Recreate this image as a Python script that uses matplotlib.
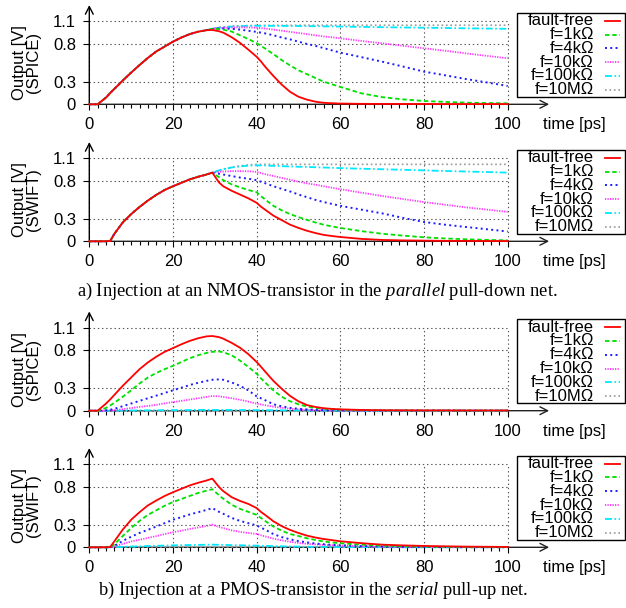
import matplotlib
matplotlib.use('Agg')
import matplotlib.pyplot as plt
from matplotlib.lines import Line2D
from matplotlib.patches import Rectangle
from matplotlib.ticker import MultipleLocator

plt.rcParams['font.family'] = ['Liberation Sans', 'DejaVu Sans']
plt.rcParams['mathtext.fontset'] = 'custom'
plt.rcParams['mathtext.rm'] = 'Liberation Serif'
plt.rcParams['mathtext.it'] = 'Liberation Serif:italic'
plt.rcParams['lines.scale_dashes'] = False

# ---------------- data ----------------
T = [0, 2, 4, 5, 6, 8, 10, 12, 14, 16, 18, 20, 22, 24, 26, 28,
     29.4, 31, 32, 34, 36, 38, 40, 41, 42, 44, 46, 48, 50, 52, 54, 56, 58, 60,
     65, 70, 75, 80, 85, 90, 95, 100]

LABELS = ['fault-free', 'f=1kΩ', 'f=4kΩ', 'f=10kΩ', 'f=100kΩ', 'f=10MΩ']
YTICKS = [0, 0.3, 0.8, 1.1]
YTICKLABELS = ['0', '0.3', '0.8', '1.1']
XTICKS = [0, 20, 40, 60, 80, 100]
YLABELS = ['Output [V]\n(SPICE)', 'Output [V]\n(SWIFT)',
           'Output [V]\n(SPICE)', 'Output [V]\n(SWIFT)']

# panel a) SPICE
a_spice_rise = [0, 0, 0.09, 0.15, 0.205, 0.315, 0.42, 0.52, 0.615, 0.70, 0.765, 0.83, 0.885, 0.93, 0.962, 0.982]
a_spice_ff = a_spice_rise + [0.985, 0.968, 0.95, 0.89, 0.815, 0.725, 0.63, 0.57, 0.50, 0.375, 0.26, 0.165, 0.10, 0.062, 0.035, 0.02, 0.014, 0.01,
                             0.006, 0.005, 0.004, 0.004, 0.003, 0.003, 0.003, 0.003]
a_spice_1k = a_spice_rise + [1.0, 0.997, 0.99, 0.965, 0.915, 0.865, 0.81, 0.775, 0.74, 0.665, 0.585, 0.515, 0.45, 0.40, 0.35, 0.30, 0.265, 0.23,
                             0.146, 0.095, 0.065, 0.044, 0.032, 0.022, 0.017, 0.013]
a_spice_4k = a_spice_rise + [1.0, 1.005, 1.005, 1.0, 0.99, 0.975, 0.96, 0.95, 0.94, 0.915, 0.885, 0.86, 0.83, 0.80, 0.775, 0.745, 0.715, 0.685,
                             0.625, 0.565, 0.50, 0.433, 0.385, 0.335, 0.29, 0.243]
a_spice_10k = a_spice_rise + [1.0, 1.01, 1.013, 1.018, 1.02, 1.018, 1.015, 1.01, 1.005, 0.99, 0.975, 0.96, 0.945, 0.93, 0.915, 0.90, 0.888, 0.875,
                              0.84, 0.808, 0.775, 0.742, 0.71, 0.675, 0.642, 0.61]
a_spice_100k = a_spice_rise + [1.0, 1.015, 1.02, 1.03, 1.035, 1.04, 1.04, 1.04, 1.04, 1.04, 1.039, 1.038, 1.037, 1.036, 1.035, 1.033, 1.032, 1.03,
                               1.026, 1.022, 1.018, 1.015, 1.011, 1.007, 1.004, 1.0]
a_spice_10M = a_spice_rise + [1.0, 1.02, 1.025, 1.035, 1.04, 1.043, 1.045, 1.046, 1.046, 1.047, 1.047, 1.047, 1.048, 1.048, 1.048, 1.048, 1.048, 1.048,
                              1.048, 1.048, 1.048, 1.048, 1.048, 1.048, 1.048, 1.048]

# panel a) SWIFT
a_swift_rise = [0, 0, 0, 0.005, 0.10, 0.25, 0.36, 0.455, 0.54, 0.615, 0.68, 0.73, 0.775, 0.82, 0.855, 0.885]
a_swift_ff = a_swift_rise + [0.91, 0.78, 0.73, 0.67, 0.62, 0.57, 0.51, 0.46, 0.42, 0.34, 0.28, 0.22, 0.177, 0.14, 0.11, 0.085, 0.07, 0.057,
                             0.032, 0.018, 0.012, 0.009, 0.006, 0.005, 0.004, 0.003]
a_swift_1k = a_swift_rise + [0.91, 0.85, 0.81, 0.755, 0.715, 0.68, 0.65, 0.60, 0.555, 0.47, 0.41, 0.36, 0.32, 0.285, 0.25, 0.22, 0.197, 0.177,
                             0.135, 0.10, 0.075, 0.053, 0.038, 0.027, 0.019, 0.013]
a_swift_4k = a_swift_rise + [0.91, 0.895, 0.885, 0.865, 0.845, 0.83, 0.81, 0.79, 0.77, 0.73, 0.695, 0.66, 0.62, 0.585, 0.55, 0.52, 0.495, 0.47,
                             0.42, 0.37, 0.31, 0.256, 0.22, 0.19, 0.16, 0.13]
a_swift_10k = a_swift_rise + [0.91, 0.92, 0.925, 0.93, 0.93, 0.928, 0.92, 0.905, 0.89, 0.865, 0.84, 0.815, 0.79, 0.77, 0.75, 0.73, 0.71, 0.69,
                              0.645, 0.60, 0.56, 0.52, 0.485, 0.45, 0.42, 0.39]
a_swift_100k = a_swift_rise + [0.91, 0.94, 0.955, 0.978, 0.993, 1.002, 1.007, 1.006, 1.004, 1.0, 0.996, 0.992, 0.988, 0.985, 0.982, 0.978, 0.974, 0.97,
                               0.962, 0.955, 0.948, 0.94, 0.932, 0.925, 0.918, 0.91]
a_swift_10M = a_swift_rise + [0.91, 0.94, 0.955, 0.98, 1.0, 1.012, 1.02, 1.02, 1.02, 1.02, 1.02, 1.02, 1.02, 1.02, 1.02, 1.02, 1.02, 1.02,
                              1.02, 1.02, 1.02, 1.02, 1.02, 1.02, 1.02, 1.02]

# panel b) SPICE
b_spice_ff = [0, 0, 0.095, 0.15, 0.21, 0.33, 0.44, 0.55, 0.64, 0.715, 0.78, 0.83, 0.88, 0.925, 0.96, 0.985,
              0.99, 0.975, 0.955, 0.90, 0.835, 0.75, 0.645, 0.585, 0.52, 0.395, 0.29, 0.195, 0.124, 0.075, 0.05, 0.033, 0.024, 0.018,
              0.01, 0.006, 0.005, 0.004, 0.004, 0.003, 0.003, 0.003]
b_spice_1k = [0, 0, 0.037, 0.07, 0.105, 0.185, 0.27, 0.36, 0.44, 0.50, 0.55, 0.595, 0.645, 0.695, 0.735, 0.765,
              0.78, 0.785, 0.775, 0.735, 0.665, 0.58, 0.49, 0.43, 0.375, 0.27, 0.185, 0.125, 0.085, 0.055, 0.038, 0.027, 0.019, 0.013,
              0.007, 0.004, 0.003, 0.003, 0.002, 0.002, 0.002, 0.002]
b_spice_4k = [0, 0, 0.005, 0.012, 0.025, 0.06, 0.095, 0.13, 0.165, 0.2, 0.235, 0.27, 0.305, 0.34, 0.37, 0.395,
              0.41, 0.415, 0.41, 0.375, 0.33, 0.27, 0.19, 0.165, 0.14, 0.085, 0.058, 0.038, 0.025, 0.017, 0.011, 0.008, 0.006, 0.005,
              0.003, 0.002, 0.002, 0.002, 0.002, 0.002, 0.002, 0.002]
b_spice_10k = [0, 0, 0, 0.003, 0.008, 0.02, 0.035, 0.05, 0.063, 0.078, 0.097, 0.115, 0.13, 0.148, 0.165, 0.183,
               0.195, 0.19, 0.183, 0.165, 0.145, 0.12, 0.093, 0.083, 0.073, 0.053, 0.038, 0.027, 0.017, 0.011, 0.007, 0.005, 0.004, 0.003,
               0.002, 0.002, 0.002, 0.002, 0.002, 0.002, 0.002, 0.002]
b_spice_100k = [0, 0, 0, 0, 0.001, 0.002, 0.003, 0.004, 0.005, 0.006, 0.007, 0.008, 0.008, 0.009, 0.01, 0.01,
                0.01, 0.01, 0.01, 0.01, 0.009, 0.009, 0.008, 0.007, 0.007, 0.006, 0.005, 0.004, 0.003, 0.002, 0.002, 0.001, 0.001, 0.001,
                0, 0, 0, 0, 0, 0, 0, 0]
b_spice_10M = [0] * 42

# panel b) SWIFT
b_swift_ff = [0, 0, 0, 0.005, 0.08, 0.235, 0.365, 0.465, 0.555, 0.62, 0.68, 0.73, 0.775, 0.82, 0.855, 0.885,
              0.91, 0.80, 0.745, 0.665, 0.615, 0.575, 0.52, 0.47, 0.43, 0.345, 0.28, 0.23, 0.19, 0.155, 0.13, 0.11, 0.095, 0.08,
              0.055, 0.035, 0.025, 0.018, 0.013, 0.009, 0.007, 0.005]
b_swift_1k = [0, 0, 0, 0, 0.04, 0.15, 0.255, 0.35, 0.43, 0.49, 0.55, 0.60, 0.64, 0.68, 0.72, 0.75,
              0.77, 0.69, 0.645, 0.565, 0.51, 0.47, 0.43, 0.39, 0.35, 0.275, 0.22, 0.175, 0.15, 0.12, 0.097, 0.078, 0.064, 0.053,
              0.035, 0.022, 0.014, 0.009, 0.006, 0.005, 0.004, 0.003]
b_swift_4k = [0, 0, 0, 0, 0.02, 0.085, 0.14, 0.19, 0.232, 0.275, 0.32, 0.365, 0.40, 0.435, 0.465, 0.495,
              0.52, 0.47, 0.445, 0.39, 0.35, 0.32, 0.29, 0.26, 0.235, 0.175, 0.135, 0.105, 0.082, 0.065, 0.05, 0.04, 0.032, 0.027,
              0.017, 0.01, 0.006, 0.004, 0.003, 0.002, 0.002, 0.002]
b_swift_10k = [0, 0, 0, 0, 0.01, 0.045, 0.077, 0.10, 0.125, 0.148, 0.175, 0.20, 0.22, 0.243, 0.262, 0.283,
               0.30, 0.27, 0.255, 0.225, 0.205, 0.19, 0.177, 0.16, 0.145, 0.115, 0.092, 0.073, 0.057, 0.046, 0.038, 0.032, 0.027, 0.022,
               0.014, 0.008, 0.005, 0.003, 0.002, 0.002, 0.002, 0.002]
b_swift_100k = [0, 0, 0, 0, 0.002, 0.006, 0.01, 0.013, 0.017, 0.02, 0.023, 0.026, 0.028, 0.03, 0.032, 0.034,
                0.035, 0.033, 0.032, 0.029, 0.027, 0.024, 0.022, 0.02, 0.019, 0.016, 0.013, 0.011, 0.009, 0.007, 0.006, 0.005, 0.004, 0.003,
                0.002, 0.001, 0, 0, 0, 0, 0, 0]
b_swift_10M = [0] * 42

PANELS = [
    [a_spice_ff, a_spice_1k, a_spice_4k, a_spice_10k, a_spice_100k, a_spice_10M],
    [a_swift_ff, a_swift_1k, a_swift_4k, a_swift_10k, a_swift_100k, a_swift_10M],
    [b_spice_ff, b_spice_1k, b_spice_4k, b_spice_10k, b_spice_100k, b_spice_10M],
    [b_swift_ff, b_swift_1k, b_swift_4k, b_swift_10k, b_swift_100k, b_swift_10M],
]

CAPTIONS = [r'a) Injection at an NMOS-transistor in the $\mathit{parallel}$ pull-down net.',
            r'b) Injection at a PMOS-transistor in the $\mathit{serial}$ pull-up net.']

# ---------------- styling / layout ----------------
STYLES = [
    dict(color='#ff0000', ls='-', lw=1.3),
    dict(color='#00e000', ls=(0, (3.2, 2.0)), lw=1.3),
    dict(color='#1c1cff', ls=(0, (1.4, 2.4)), lw=1.4),
    dict(color='#ff33ff', ls=(0, (0.9, 0.9)), lw=1.3),
    dict(color='#00e8ff', ls=(0, (5.0, 1.8, 1.2, 1.8)), lw=1.3),
    dict(color='#999999', ls=(0, (1.2, 2.0)), lw=1.2),
]
ZORD = [10, 9, 8, 7, 6, 5]

W, H = 626, 608
fig = plt.figure(figsize=(W / 100, H / 100), dpi=100)


def fx(x):
    return x / W


def fy(y):
    return 1 - y / H


X0, X1 = 89.3, 507.7
Y0S = [104.3, 241.3, 410.7, 547.3]
AXH = 83.0
FS = 12

for p, (series, y0) in enumerate(zip(PANELS, Y0S)):
    ax = fig.add_axes([fx(X0), fy(y0), (X1 - X0) / W, AXH / H])
    ax.set_xlim(0, 100)
    ax.set_ylim(0, 1.1)
    ax.patch.set_alpha(0)
    for s in ax.spines.values():
        s.set_visible(False)
    ax.set_xticks(XTICKS)
    ax.set_xticklabels([str(v) for v in XTICKS])
    ax.xaxis.set_minor_locator(MultipleLocator(2))
    ax.set_yticks(YTICKS)
    ax.set_yticklabels(YTICKLABELS)
    ax.tick_params(axis='x', which='major', direction='out', length=4, width=0.8, pad=5.3, labelsize=FS)
    ax.tick_params(axis='x', which='minor', direction='out', length=3, width=0.8)
    ax.tick_params(axis='y', which='major', direction='out', length=4.5, width=0.8, pad=5, labelsize=FS)
    ax.grid(True, which='major', color='#555555', ls=(0, (1, 2)), lw=0.8)
    for gl in ax.get_xgridlines() + ax.get_ygridlines():
        gl.set_clip_on(False)
    ax.set_axisbelow(True)

    # axes arrows
    ax.annotate('', xy=(1.099, 0), xytext=(0, 0), xycoords='axes fraction',
                arrowprops=dict(arrowstyle='->,head_length=0.55,head_width=0.28', lw=1.0,
                                color='#222222', shrinkA=0, shrinkB=0),
                annotation_clip=False, zorder=2)
    ax.annotate('', xy=(0, 1.196), xytext=(0, 0), xycoords='axes fraction',
                arrowprops=dict(arrowstyle='->,head_length=0.55,head_width=0.28', lw=1.0,
                                color='#000000', shrinkA=0, shrinkB=0),
                annotation_clip=False, zorder=2)

    for k in range(5, -1, -1):
        ax.plot(T, series[k], clip_on=False, zorder=ZORD[k], **STYLES[k])

    # y label
    fig.text(fx(26.5), fy(y0 - AXH / 2), YLABELS[p], rotation=90, ha='center', va='center',
             fontsize=FS, linespacing=0.95, multialignment='center')
    # x label
    fig.text(fx(543), fy(y0 + 20.5), 'time [ps]', ha='left', va='center', fontsize=FS)

    # legend (manual, gnuplot-like)
    btop = y0 - AXH - 8.3
    bbot = btop + 83.5
    fig.add_artist(Rectangle((fx(517), fy(bbot)), (625 - 517) / W, (bbot - btop) / H,
                             transform=fig.transFigure, facecolor='white', edgecolor='black',
                             lw=1.0, zorder=20))
    for k in range(6):
        yc = btop + 7.7 + 13.8 * k
        fig.text(fx(594), fy(yc), LABELS[k], ha='right', va='center', fontsize=FS, zorder=21)
        ln = Line2D([fx(605), fx(620)], [fy(yc), fy(yc)], transform=fig.transFigure, zorder=21, **STYLES[k])
        fig.add_artist(ln)

fig.text(fx(317), fy(291), CAPTIONS[0], ha='center', va='center', fontsize=13.3, family='Liberation Serif')
fig.text(fx(313.5), fy(590), CAPTIONS[1], ha='center', va='center', fontsize=13.3, family='Liberation Serif')

fig.savefig('out.png', dpi=100)
